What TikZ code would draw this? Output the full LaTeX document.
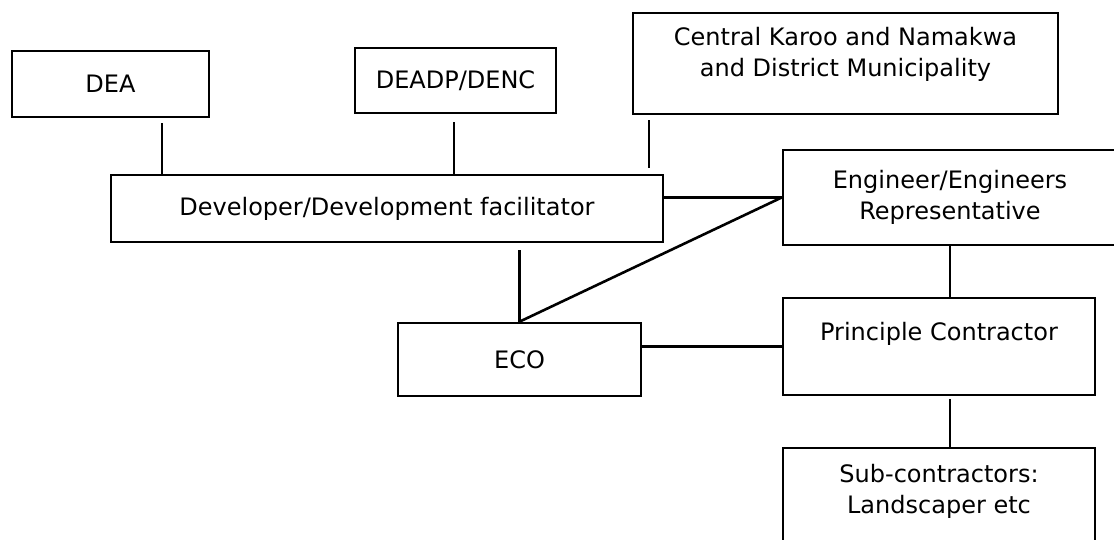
\documentclass[tikz,border=0pt]{standalone}
\usepackage{fontspec}
\setmainfont{DejaVu Sans}
\usepackage{tikz}

\begin{document}
\begin{tikzpicture}[x=1pt,y=-1pt]
\tikzstyle{every node}+=[inner sep=0pt]
\tikzstyle{orgbox}=[draw=black,line width=2.6pt,rectangle,align=center,font=\fontsize{24}{31}\selectfont]
\tikzstyle{link}=[draw=black,line width=2.6pt]
\useasboundingbox (0,0) rectangle (1114,540);
% boxes
\node [orgbox,minimum width=197,minimum height=66] (dea) at (110.5,84) {DEA};
\node [orgbox,minimum width=201,minimum height=65] (deadp) at (455.5,80.5) {DEADP/DENC};
\node [orgbox,minimum width=425,minimum height=101] (karoo) at (845.5,63.5) {Central Karoo and Namakwa\\and District Municipality\\[-8pt]\mbox{}};
\node [orgbox,minimum width=552,minimum height=67] (dev) at (387,208.5) {Developer/Development facilitator};
\node [orgbox,minimum width=334,minimum height=95] (eng) at (950,197.5) {Engineer/Engineers\\Representative};
\node [orgbox,minimum width=243,minimum height=73] (eco) at (519.5,359.5) {ECO};
\node [orgbox,minimum width=312,minimum height=97] (prin) at (939,346.5) {Principle Contractor\\\mbox{}};
\node [orgbox,minimum width=312,minimum height=112] (sub) at (939,504) {Sub-contractors:\\Landscaper etc\\\mbox{}};
% connectors
\path (dea.south) ++(51.5,5) coordinate (dea-a);
\path (deadp.south) ++(-1.5,8) coordinate (deadp-a);
\path (karoo.south) ++(-196.5,5) coordinate (karoo-a);
\draw [link] (dea-a) -- (dea-a |- dev.north);
\draw [link] (deadp-a) -- (deadp-a |- dev.north);
\draw [link,shorten >=6pt] (karoo-a) -- (karoo-a |- dev.north);
\draw [link] (dev.east |- eng.west) -- (eng.west);
\draw [link,shorten <=7pt] (eco.north |- dev.south) -- (eco.north);
\draw [link] (eco.north) -- (eng.west);
\draw [link] (eng.south) -- (eng.south |- prin.north);
\draw [link] (prin.west -| eco.east) -- (prin.west);
\draw [link,shorten <=3pt] (eng.south |- prin.south) -- (eng.south |- sub.north);
\end{tikzpicture}
\end{document}
